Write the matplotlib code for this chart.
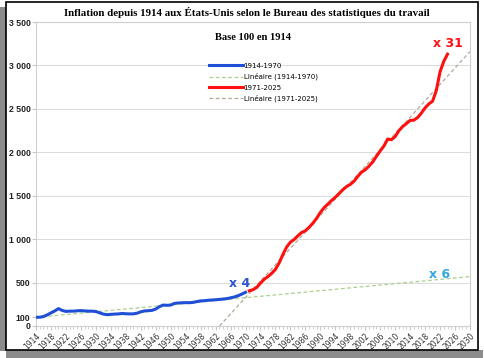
import numpy as np
import matplotlib.pyplot as plt
from matplotlib.patches import Rectangle
from matplotlib.ticker import FuncFormatter, MultipleLocator

# Indice des prix, base 100 en 1914
years_1 = list(range(1914, 1971))
values_1 = [100, 101, 109, 128, 151, 173, 200, 179, 168, 171,
            171, 175, 177, 174, 171, 171, 167, 152, 137, 130,
            134, 137, 139, 144, 141, 139, 140, 147, 163, 173,
            176, 180, 195, 223, 241, 238, 241, 260, 265, 267,
            269, 268, 272, 281, 289, 291, 296, 299, 302, 306,
            310, 315, 324, 334, 348, 367, 388]
years_2 = list(range(1971, 2025))
values_2 = [405, 418, 444, 493, 538, 569, 606, 652, 726, 824,
            909, 965, 996, 1039, 1076, 1096, 1136, 1183, 1240, 1307,
            1362, 1403, 1445, 1482, 1524, 1569, 1605, 1630, 1666, 1722,
            1771, 1799, 1840, 1889, 1953, 2016, 2073, 2153, 2145, 2181,
            2249, 2296, 2330, 2367, 2370, 2400, 2451, 2511, 2557, 2588,
            2710, 2927, 3047, 3130]

y_ticks = [0, 100, 500, 1000, 1500, 2000, 2500, 3000, 3500]
x_ticks = list(range(1914, 2031, 4))

blue = '#1f4fd6'
red = '#ff1010'

fig = plt.figure(figsize=(4.84, 3.58), dpi=100)
fig.patch.set_facecolor('white')

# cadre avec ombre
fig.patches.append(Rectangle((0, 0.02), 0.012, 0.96, transform=fig.transFigure,
                             facecolor='#8c8c8c', edgecolor='none', zorder=0))
fig.patches.append(Rectangle((0.012, 0.0), 0.985, 0.022, transform=fig.transFigure,
                             facecolor='#8c8c8c', edgecolor='none', zorder=0))
fig.patches.append(Rectangle((0.012, 0.022), 0.976, 0.973, transform=fig.transFigure,
                             facecolor='white', edgecolor='black', linewidth=1.2, zorder=1))

ax = fig.add_axes([0.0744, 0.0894, 0.8966, 0.8491])
ax.set_zorder(2)

# tendances linéaires
x1, y1 = np.array(years_1), np.array(values_1)
x2, y2 = np.array(years_2), np.array(values_2)
p1 = np.polyfit(x1, y1, 1)
p2 = np.polyfit(x2, y2, 1)
xt1 = np.array([1914, 2030])
x0 = -p2[1] / p2[0]
xt2 = np.array([x0, 2030])

ax.plot(x1, y1, color=blue, lw=2.2, label='1914-1970', zorder=4)
ax.plot(xt1, np.polyval(p1, xt1), color='#a9d18e', lw=0.9, ls=(0, (3, 2)),
        label='Linéaire (1914-1970)', zorder=3)
ax.plot(x2, y2, color=red, lw=2.2, label='1971-2025', zorder=4)
ax.plot(xt2, np.polyval(p2, xt2), color='#b3a999', lw=0.9, ls=(0, (3, 2)),
        label='Linéaire (1971-2025)', zorder=3)

ax.set_xlim(1914, 2030)
ax.set_ylim(0, 3500)
ax.set_xticks(x_ticks)
ax.xaxis.set_minor_locator(MultipleLocator(1))
ax.set_yticks(y_ticks)
ax.yaxis.set_major_formatter(FuncFormatter(lambda v, p: f'{int(v):,}'.replace(',', ' ')))

ax.tick_params(axis='y', labelsize=6.3, length=3, color='#c8c8c8', pad=1)
ax.tick_params(axis='x', which='major', labelsize=5.5, length=3, color='#c8c8c8', pad=1)
ax.tick_params(axis='x', which='minor', length=2, color='#c8c8c8')
for lab in ax.get_yticklabels():
    lab.set_fontweight('bold')
    lab.set_family('Liberation Sans')
    lab.set_color('#222222')
for lab in ax.get_xticklabels():
    lab.set_rotation(45)
    lab.set_ha('right')
    lab.set_rotation_mode('anchor')
    lab.set_color('#333333')

ax.grid(axis='y', color='#dcdcdc', lw=0.8)
ax.get_ygridlines()[1].set_visible(False)
ax.set_axisbelow(True)
for s in ax.spines.values():
    s.set_color('#d0d0d0')
    s.set_linewidth(0.8)

fig.text(0.51, 0.966, 'Inflation depuis 1914 aux États-Unis selon le Bureau des statistiques du travail',
         ha='center', va='center', fontsize=7.8, fontweight='bold', family='Liberation Serif')
ax.text(0.5, 0.95, 'Base 100 en 1914', transform=ax.transAxes, ha='center', va='center',
        fontsize=7.6, fontweight='bold', family='Liberation Serif')

ax.text(1968.5, 420, 'x 4', color='#2a56d0', fontsize=9, fontweight='bold', ha='center', va='bottom')
ax.text(2024.2, 3180, 'x 31', color=red, fontsize=9, fontweight='bold', ha='center', va='bottom')
ax.text(2022, 520, 'x 6', color='#2fa8e0', fontsize=9, fontweight='bold', ha='center', va='bottom')

leg = ax.legend(loc='upper left', bbox_to_anchor=(0.393, 0.875), fontsize=5, frameon=False,
                handlelength=4.8, handletextpad=0.15, labelspacing=0.6, borderaxespad=0)

fig.savefig('out.png', dpi=100)
